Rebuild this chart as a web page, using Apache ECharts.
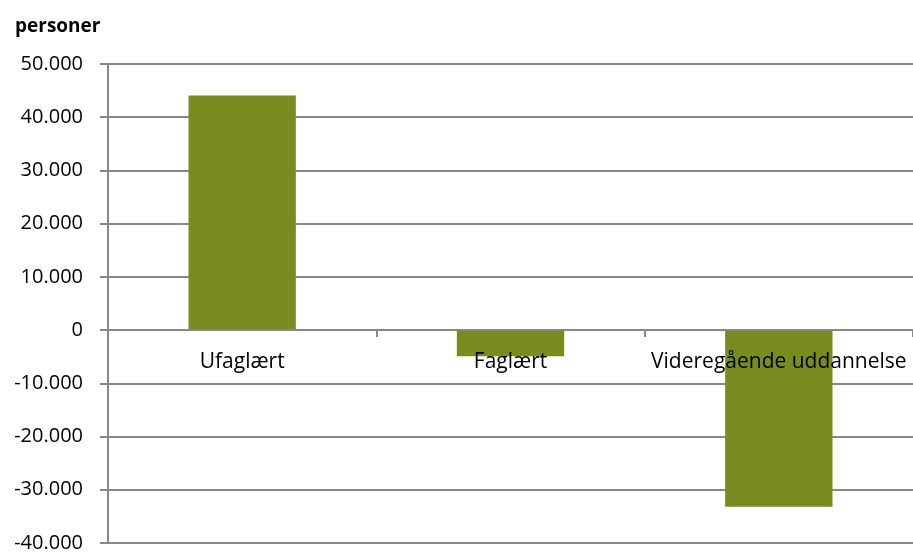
<!DOCTYPE html>
<html>
<head>
<meta charset="utf-8">
<script src="https://cdn.jsdelivr.net/npm/echarts@6/dist/echarts.min.js"></script>
<style>
  html, body { margin: 0; padding: 0; background: #fff; }
  #main { width: 913px; height: 552px; }
</style>
</head>
<body>
<div id="main"></div>
<script>
// data
const categories = ['Ufaglært', 'Faglært', 'Videregående uddannelse'];
const values = [44100, -4900, -33200];
const yMin = -40000;
const yMax = 50000;
const yStep = 10000;

const FONT = '"Open Sans", "Liberation Sans", sans-serif';
const GRID_COLOR = '#888888';
const GRID_TOP = 64;
const GRID_BOTTOM = 9;
const HEIGHT = 552;

function fmt(v) {
  const s = Math.abs(v).toString().replace(/\B(?=(\d{3})+(?!\d))/g, '.');
  return (v < 0 ? '-' : '') + s;
}

// put the category axis on the zero line
const plotH = HEIGHT - GRID_TOP - GRID_BOTTOM;
const zeroOffset = -plotH * (0 - yMin) / (yMax - yMin);

const option = {
  animation: false,
  title: {
    text: 'personer',
    left: 10,
    top: 12,
    textStyle: { fontFamily: FONT, fontSize: 19, fontWeight: 'bold', color: '#000' }
  },
  grid: { left: 108, right: 0, top: GRID_TOP, bottom: GRID_BOTTOM, outerBoundsMode: 'none' },
  xAxis: {
    type: 'category',
    data: categories,
    position: 'bottom',
    offset: zeroOffset,
    axisLine: { onZero: false, lineStyle: { color: GRID_COLOR, width: 2 } },
    axisTick: { show: true, length: 7, lineStyle: { color: GRID_COLOR, width: 2 } },
    axisLabel: { margin: 21, interval: 0, hideOverlap: false, fontFamily: FONT, fontSize: 21, color: '#000' },
    z: 1
  },
  yAxis: {
    type: 'value',
    min: yMin,
    max: yMax,
    interval: yStep,
    axisLine: { show: true, lineStyle: { color: GRID_COLOR, width: 2 } },
    axisTick: { show: true, length: 8, lineStyle: { color: GRID_COLOR, width: 2 } },
    splitLine: { lineStyle: { color: GRID_COLOR, width: 2 } },
    axisLabel: { margin: 25, fontFamily: FONT, fontSize: 20, color: '#000', formatter: fmt }
  },
  series: [{
    type: 'bar',
    data: values,
    barWidth: '40%',
    itemStyle: { color: '#788C1F' },
    z: 0
  }]
};

const chartDom = document.getElementById('main');
const myChart = echarts.init(chartDom);
myChart.setOption(option);
</script>
</body>
</html>
